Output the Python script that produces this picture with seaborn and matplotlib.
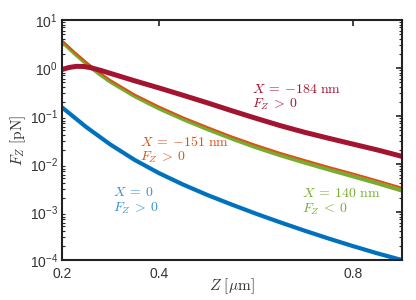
import numpy as np
import pandas as pd
import matplotlib
matplotlib.use("Agg")
import matplotlib.pyplot as plt
import seaborn as sns

# ---- data ----
z_blue = [0.20, 0.25, 0.30, 0.35, 0.40, 0.45, 0.50, 0.55, 0.60, 0.65, 0.70, 0.75, 0.80, 0.85, 0.901]
f_blue = [0.1514, 0.0589, 0.0254, 0.01216, 0.00646, 0.00372, 0.00226, 0.00143, 0.000923,
          0.000610, 0.000410, 0.000280, 0.000195, 0.000138, 0.0001]

z_green = [0.200, 0.225, 0.25, 0.275, 0.30, 0.35, 0.40, 0.45, 0.50, 0.55, 0.60, 0.65, 0.70,
           0.75, 0.80, 0.85, 0.901]
f_green = [3.548, 2.053, 1.237, 0.781, 0.516, 0.2585, 0.1437, 0.0856, 0.0531, 0.0339, 0.02226,
           0.01522, 0.01072, 0.00767, 0.00553, 0.00398, 0.00279]

z_orange = [0.200, 0.225, 0.25, 0.275, 0.30, 0.35, 0.40, 0.45, 0.50, 0.55, 0.60, 0.65, 0.70,
            0.75, 0.80, 0.85, 0.901]
f_orange = [3.715, 2.175, 1.326, 0.8366, 0.5593, 0.2803, 0.1576, 0.0939, 0.0589, 0.0376, 0.02496,
            0.01708, 0.01216, 0.00871, 0.00635, 0.00457, 0.00322]

z_red = [0.200, 0.215, 0.230, 0.245, 0.260, 0.280, 0.30, 0.35, 0.40, 0.45, 0.50, 0.55, 0.60,
         0.65, 0.70, 0.75, 0.80, 0.85, 0.901]
f_red = [0.931, 1.028, 1.084, 1.076, 1.012, 0.891, 0.773, 0.541, 0.385, 0.270, 0.188, 0.129,
         0.0897, 0.0631, 0.0459, 0.0344, 0.0260, 0.0197, 0.01445]

x_ticks = [0.2, 0.4, 0.8]
x_ticklabels = ["0.2", "0.4", "0.8"]

labels = {
    "red": (r"$X\:=\:{-}184\ \mathrm{nm}$", r"$F_Z\:>\:0$"),
    "orange": (r"$X\:=\:{-}151\ \mathrm{nm}$", r"$F_Z\:>\:0$"),
    "blue": (r"$X\:=\:0$", r"$F_Z\:>\:0$"),
    "green": (r"$X\:=\:140\ \mathrm{nm}$", r"$F_Z\:<\:0$"),
}

C_BLUE = "#0072BD"
C_ORANGE = "#D95319"
C_GREEN = "#77AC30"
C_RED = "#A2142F"

sns.set_style("white")
plt.rcParams["font.family"] = ["Liberation Sans", "DejaVu Sans"]
plt.rcParams["mathtext.fontset"] = "cm"

fig = plt.figure(figsize=(4.16, 3.0), dpi=100)
ax = fig.add_axes([0.149, 0.1333, 0.817, 0.8])

sns.lineplot(x=z_blue, y=f_blue, ax=ax, color=C_BLUE, linewidth=3.0, sort=False)
sns.lineplot(x=z_green, y=f_green, ax=ax, color=C_GREEN, linewidth=2.9, sort=False)
sns.lineplot(x=z_orange, y=f_orange, ax=ax, color=C_ORANGE, linewidth=1.4, sort=False)
sns.lineplot(x=z_red, y=f_red, ax=ax, color=C_RED, linewidth=3.6, sort=False)

ax.set_yscale("log")
ax.set_xlim(0.2, 0.901)
ax.set_ylim(1e-4, 1e1)
ax.set_xticks(x_ticks)
ax.set_xticklabels(x_ticklabels)
ax.set_yticks([1e-4, 1e-3, 1e-2, 1e-1, 1e0, 1e1])

for s in ax.spines.values():
    s.set_linewidth(1.5)
    s.set_color("#222222")
    s.set_visible(True)

ax.tick_params(which="major", direction="in", length=4, width=1.2, top=True, right=True,
               labelsize=10, colors="#222222", labelcolor="#333333")
ax.tick_params(axis="x", which="major", pad=5)
ax.tick_params(axis="y", which="major", pad=3)
ax.tick_params(which="minor", direction="in", length=2, width=0.8, top=False, right=True,
               left=True, bottom=False)
ax.xaxis.set_minor_locator(matplotlib.ticker.NullLocator())

ax.set_xlabel(r"$Z\ [\mu\mathrm{m}]$", fontsize=11, color="#333333", va="center")
ax.xaxis.set_label_coords(0.5, -0.11)
ax.set_ylabel(r"$F_Z\ [\mathrm{pN}]$", fontsize=11, color="#333333", va="center")
ax.yaxis.set_label_coords(-0.13, 0.5)

fs = 10
def lab(key, x, ytop, color):
    l1, l2 = labels[key]
    ax.text(x, ytop, l1 + "\n" + l2, transform=ax.transAxes, color=color, fontsize=fs,
            ha="left", va="top", linespacing=1.1)

lab("red", 0.559, 0.742, C_RED)
lab("orange", 0.229, 0.522, C_ORANGE)
lab("blue", 0.150, 0.312, "#3A8FD0")
lab("green", 0.706, 0.308, C_GREEN)

fig.savefig("out.png", dpi=100)
